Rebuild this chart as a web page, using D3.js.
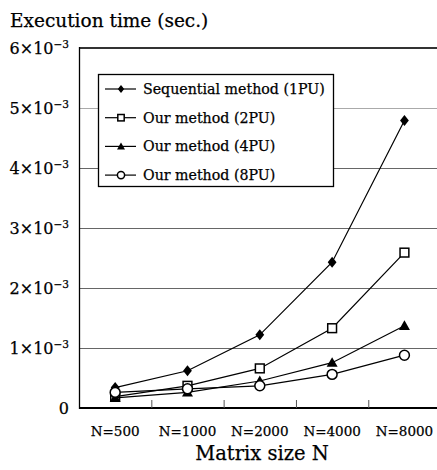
<!DOCTYPE html>
<html>
<head>
<meta charset="utf-8">
<script src="https://cdn.jsdelivr.net/npm/d3@7"></script>
<style>
  body { margin: 0; background: #fff; }
  svg text { font-family: "DejaVu Serif", "Liberation Serif", serif; fill: #000; stroke: #000; stroke-width: 0.25px; }
</style>
</head>
<body>
<div id="chart"></div>
<script>
// categories and series (seconds)
var categories = ['N=500', 'N=1000', 'N=2000', 'N=4000', 'N=8000'];
var seq1PU = [0.34e-3, 0.62e-3, 1.22e-3, 2.43e-3, 4.79e-3];
var our2PU = [0.19e-3, 0.37e-3, 0.66e-3, 1.33e-3, 2.59e-3];
var our4PU = [0.17e-3, 0.26e-3, 0.45e-3, 0.755e-3, 1.37e-3];
var our8PU = [0.26e-3, 0.32e-3, 0.37e-3, 0.56e-3, 0.88e-3];
var yTicks = [0, 1e-3, 2e-3, 3e-3, 4e-3, 5e-3, 6e-3];

var seriesNames = ['Sequential method (1PU)', 'Our method (2PU)', 'Our method (4PU)', 'Our method (8PU)'];
var seriesValues = [seq1PU, our2PU, our4PU, our8PU];
var seriesSymbols = ['diamond', 'square', 'triangle', 'circle'];

var width = 437, height = 470;
var plotLeft = 79, plotRight = 440.6, plotTop = 48, plotBottom = 408;

var svg = d3.select('#chart')
  .append('svg')
  .attr('width', width)
  .attr('height', height);

var x = d3.scaleBand().domain(categories).range([plotLeft, plotRight]);
var y = d3.scaleLinear().domain([0, 6e-3]).range([plotBottom, plotTop]);

//Gridlines
svg.append('g')
  .selectAll('line')
  .data(yTicks.filter(function (d) { return d > 0 && d < 6e-3; }))
  .enter()
  .append('line')
  .attr('x1', plotLeft).attr('x2', width)
  .attr('y1', function (d) { return Math.round(y(d)) + 0.5; })
  .attr('y2', function (d) { return Math.round(y(d)) + 0.5; })
  .attr('stroke', function (d) { return d === 5e-3 ? '#aaa' : '#666'; })
  .attr('stroke-width', 1);

//Frame
svg.append('line')
  .attr('x1', plotLeft).attr('x2', width)
  .attr('y1', plotTop).attr('y2', plotTop)
  .attr('stroke', '#333').attr('stroke-width', 2);
svg.append('line')
  .attr('x1', plotLeft).attr('x2', width)
  .attr('y1', plotBottom).attr('y2', plotBottom)
  .attr('stroke', '#000').attr('stroke-width', 2);
svg.append('line')
  .attr('x1', plotLeft + 0.5).attr('x2', plotLeft + 0.5)
  .attr('y1', plotTop - 1).attr('y2', plotBottom + 1)
  .attr('stroke', '#000').attr('stroke-width', 1.3);

//X ticks (inward) between bands
svg.append('g')
  .selectAll('line')
  .data(categories.slice(1))
  .enter()
  .append('line')
  .attr('x1', function (d) { return x(d) + 0.5; })
  .attr('x2', function (d) { return x(d) + 0.5; })
  .attr('y1', plotBottom).attr('y2', plotBottom - 8)
  .attr('stroke', '#555').attr('stroke-width', 1);

//X labels
svg.append('g')
  .selectAll('text')
  .data(categories)
  .enter()
  .append('text')
  .attr('x', function (d) { return x(d) + x.bandwidth() / 2; })
  .attr('y', 436)
  .attr('text-anchor', 'middle')
  .style('font-size', '13.5px')
  .text(function (d) { return d; });

//Y labels
var yl = svg.append('g')
  .selectAll('text')
  .data(yTicks)
  .enter()
  .append('text')
  .attr('x', 69)
  .attr('y', function (d) { return y(d) + 5.5; })
  .attr('text-anchor', 'end')
  .style('font-size', '16px');
yl.each(function (d) {
  var t = d3.select(this);
  if (d === 0) { t.text('0'); return; }
  var m = Math.round(d / 1e-3);
  t.append('tspan').text(m + '\u00d710');
  t.append('tspan').attr('dy', -6).style('font-size', '10.5px').text('\u22123');
});

//Axis titles
svg.append('text')
  .attr('x', 10).attr('y', 27)
  .style('font-size', '18.5px')
  .text('Execution time (sec.)');
svg.append('text')
  .attr('x', 262).attr('y', 460)
  .attr('text-anchor', 'middle')
  .style('font-size', '19.5px')
  .text('Matrix size N');

//Marker helper
function marker(g, sym, cx, cy, s) {
  if (sym === 'diamond') {
    g.append('path')
      .attr('d', 'M' + cx + ',' + (cy - s) + 'L' + (cx + s * 0.8) + ',' + cy + 'L' + cx + ',' + (cy + s) + 'L' + (cx - s * 0.8) + ',' + cy + 'Z')
      .attr('fill', '#000');
  } else if (sym === 'square') {
    g.append('rect')
      .attr('x', cx - s * 0.8).attr('y', cy - s * 0.8)
      .attr('width', s * 1.6).attr('height', s * 1.6)
      .attr('fill', '#fff').attr('stroke', '#000').attr('stroke-width', 1.5);
  } else if (sym === 'triangle') {
    g.append('path')
      .attr('d', 'M' + cx + ',' + (cy - s) + 'L' + (cx + s) + ',' + (cy + s * 0.75) + 'L' + (cx - s) + ',' + (cy + s * 0.75) + 'Z')
      .attr('fill', '#000');
  } else {
    g.append('circle')
      .attr('cx', cx).attr('cy', cy).attr('r', s * 0.9)
      .attr('fill', '#fff').attr('stroke', '#000').attr('stroke-width', 1.5);
  }
}

//Lines and markers
var line = d3.line()
  .x(function (d, i) { return x(categories[i]) + x.bandwidth() / 2; })
  .y(function (d) { return y(d); });

seriesValues.forEach(function (vals, k) {
  var g = svg.append('g');
  g.append('path')
    .attr('d', line(vals))
    .attr('fill', 'none')
    .attr('stroke', '#000')
    .attr('stroke-width', 1.2);
  vals.forEach(function (v, i) {
    marker(g, seriesSymbols[k], x(categories[i]) + x.bandwidth() / 2, y(v), 5.5);
  });
});

//Legend
var lg = svg.append('g');
lg.append('rect')
  .attr('x', 98.5).attr('y', 74.5)
  .attr('width', 235).attr('height', 112)
  .attr('fill', '#fff').attr('stroke', '#000').attr('stroke-width', 1.3);

seriesNames.forEach(function (name, k) {
  var ly = 89 + k * 28.7;
  lg.append('line')
    .attr('x1', 105).attr('x2', 136)
    .attr('y1', ly).attr('y2', ly)
    .attr('stroke', '#000').attr('stroke-width', 1.2);
  marker(lg, seriesSymbols[k], 121, ly, 4);
  lg.append('text')
    .attr('x', 143).attr('y', ly + 5)
    .style('font-size', '14.2px')
    .text(name);
});
</script>
</body>
</html>
